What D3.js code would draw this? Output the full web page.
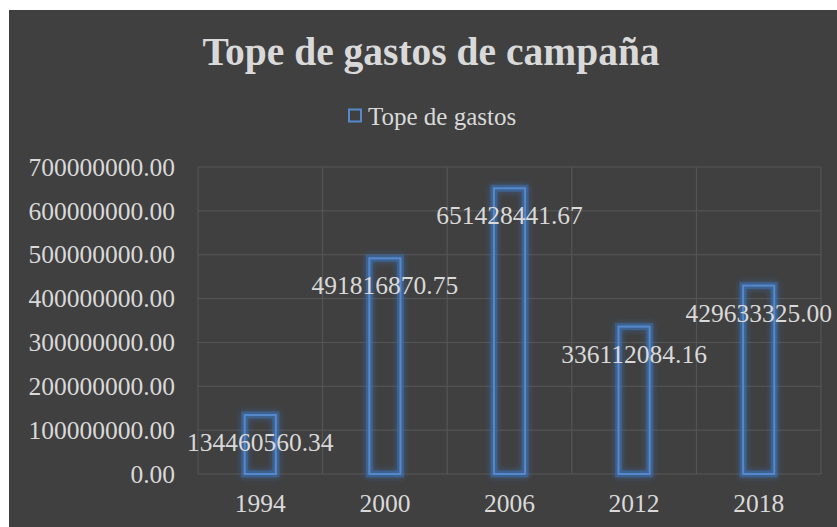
<html>
<head>
	<meta charset="utf-8">
	<script src="https://d3js.org/d3.v7.min.js"></script>
	<style>
		body { margin: 0; background: #ffffff; }
		text { font-family: "Liberation Serif", "DejaVu Serif", serif; fill: #d9d9d9; }
	</style>
</head>
<body>
	<script>
		// datos
		var years = ["1994", "2000", "2006", "2012", "2018"];
		var topes = [134460560.34, 491816870.75, 651428441.67, 336112084.16, 429633325.00];
		var yTicks = [0, 100000000, 200000000, 300000000, 400000000, 500000000, 600000000, 700000000];
		var titulo = "Tope de gastos de campaña";
		var serie = "Tope de gastos";

		var w = 837; // ancho
		var h = 527; // alto
		var pL = 198, pR = 821, pT = 167, pB = 474; // area del grafico

		var svg = d3.select("body").append("svg").attr("width", w).attr("height", h);

		// filtro de brillo para las barras
		var defs = svg.append("defs");
		var glow = defs.append("filter").attr("id", "glow").attr("x", "-50%").attr("y", "-50%").attr("width", "200%").attr("height", "200%");
		glow.append("feGaussianBlur").attr("in", "SourceGraphic").attr("stdDeviation", 3).attr("result", "blur");
		var merge = glow.append("feMerge");
		merge.append("feMergeNode").attr("in", "blur");
		merge.append("feMergeNode").attr("in", "SourceGraphic");

		svg.append("rect").attr("x", 9).attr("y", 10).attr("width", w).attr("height", h).attr("fill", "#404040");

		var xScale = d3.scaleBand().domain(years).range([pL, pR]).paddingInner(0.75).paddingOuter(0.375);
		var yScale = d3.scaleLinear().domain([0, 700000000]).range([pB, pT]);
		var step = xScale.step();

		// lineas de cuadricula
		svg.append("g").selectAll("line").data(yTicks).enter().append("line")
			.attr("x1", pL).attr("x2", pR)
			.attr("y1", function(d){ return yScale(d); }).attr("y2", function(d){ return yScale(d); })
			.attr("stroke", "#575757").attr("stroke-width", 1);
		svg.append("g").selectAll("line").data(d3.range(years.length + 1)).enter().append("line")
			.attr("x1", function(i){ return pL + i * step; }).attr("x2", function(i){ return pL + i * step; })
			.attr("y1", pT).attr("y2", pB)
			.attr("stroke", "#575757").attr("stroke-width", 1);

		// ejes
		var yAxis = d3.axisLeft(yScale).tickValues(yTicks).tickFormat(d3.format(".2f")).tickSize(0).tickPadding(23);
		var gy = svg.append("g").attr("transform", "translate(" + pL + ",0)").call(yAxis);
		gy.select(".domain").remove();
		gy.selectAll("text").attr("font-size", 25.5).attr("fill", "#d9d9d9");
		gy.attr("font-family", null).attr("font-size", null);

		var xAxis = d3.axisBottom(xScale).tickSize(0).tickPadding(20);
		var gx = svg.append("g").attr("transform", "translate(0," + pB + ")").call(xAxis);
		gx.select(".domain").remove();
		gx.selectAll("text").attr("font-size", 25.5).attr("fill", "#d9d9d9");
		gx.attr("font-family", null).attr("font-size", null);

		// barras
		var data = years.map(function(y, i){ return {year: y, value: topes[i]}; });
		var bars = svg.append("g");
		bars.selectAll("rect.glow").data(data).enter().append("rect").attr("class", "glow")
			.attr("x", function(d){ return xScale(d.year); })
			.attr("y", function(d){ return yScale(d.value); })
			.attr("width", xScale.bandwidth())
			.attr("height", function(d){ return pB - yScale(d.value); })
			.attr("fill", "none").attr("stroke", "#3d6fb0").attr("stroke-width", 7).attr("stroke-opacity", 0.55)
			.attr("filter", "url(#glow)");
		bars.selectAll("rect.bar").data(data).enter().append("rect").attr("class", "bar")
			.attr("x", function(d){ return xScale(d.year); })
			.attr("y", function(d){ return yScale(d.value); })
			.attr("width", xScale.bandwidth())
			.attr("height", function(d){ return pB - yScale(d.value); })
			.attr("fill", "none").attr("stroke", "#5689cc").attr("stroke-width", 2);

		// etiquetas de valores
		svg.append("g").selectAll("text").data(data).enter().append("text")
			.attr("x", function(d){ return xScale(d.year) + xScale.bandwidth() / 2; })
			.attr("y", function(d){ return yScale(d.value) + 27; })
			.attr("dy", "0.35em")
			.attr("text-anchor", "middle").attr("font-size", 25.5)
			.text(function(d){ return d3.format(".2f")(d.value); });

		// titulo
		svg.append("text").attr("x", 431).attr("y", 65).attr("text-anchor", "middle")
			.attr("font-size", 39.5).attr("font-weight", "bold").text(titulo);

		// leyenda
		svg.append("rect").attr("x", 349).attr("y", 109.5).attr("width", 12).attr("height", 12)
			.attr("fill", "none").attr("stroke", "#5689cc").attr("stroke-width", 2);
		svg.append("text").attr("x", 368).attr("y", 116).attr("dy", "0.35em").attr("font-size", 25).text(serie);
	</script>
</body>
</html>
